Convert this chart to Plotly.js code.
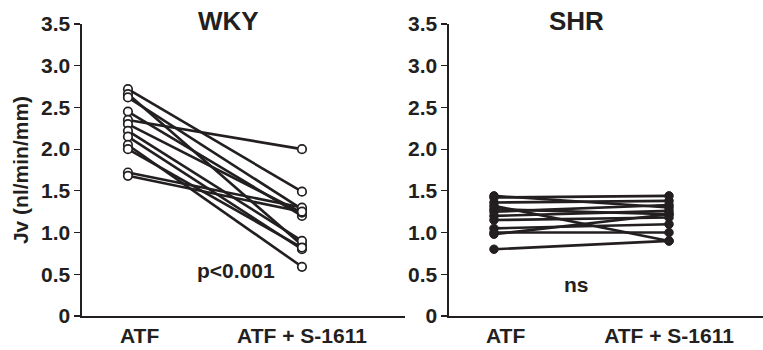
<!DOCTYPE html>
<html><head><meta charset="utf-8">
<script src="https://cdn.plot.ly/plotly-3.0.1.min.js"></script>
<style>html,body{margin:0;padding:0;background:#fff}#c{width:763px;height:350px}</style>
</head><body><div id="c"></div>
<script>
const categories = ["\u00a0\u00a0\u00a0\u00a0ATF", "ATF + S-1611"];
const wkyATF   = [2.72, 2.66, 2.62, 2.45, 2.35, 2.30, 2.22, 2.15, 2.05, 2.00, 1.72, 1.68];
const wkyS1611 = [1.49, 0.85, 1.28, 1.20, 2.00, 1.24, 0.90, 0.80, 0.59, 0.82, 1.30, 1.25];
const shrATF   = [1.44, 1.42, 1.36, 1.32, 1.28, 1.25, 1.20, 1.15, 1.05, 1.00, 0.98, 0.80];
const shrS1611 = [1.30, 1.44, 1.38, 0.90, 1.22, 1.33, 1.26, 1.18, 1.10, 1.00, 1.22, 0.90];
const yTicks = [0, 0.5, 1.0, 1.5, 2.0, 2.5, 3.0, 3.5];
const yTickText = ["0", "0.5", "1.0", "1.5", "2.0", "2.5", "3.0", "3.5"];

const ink = "#231f20";
const traces = [];
wkyATF.forEach((v, i) => traces.push({
  x: [0, 1], y: [v, wkyS1611[i]], xaxis: "x", yaxis: "y", mode: "lines+markers",
  line: {color: ink, width: 2.6},
  marker: {size: 8.5, color: "#fff", line: {color: ink, width: 1.7}},
  showlegend: false, hoverinfo: "skip"
}));
shrATF.forEach((v, i) => traces.push({
  x: [0, 1], y: [v, shrS1611[i]], xaxis: "x2", yaxis: "y2", mode: "lines+markers",
  line: {color: ink, width: 2.6},
  marker: {size: 8.5, color: ink, line: {color: ink, width: 1}},
  showlegend: false, hoverinfo: "skip"
}));

const font = {family: "Liberation Sans, Arial, sans-serif", size: 21, color: ink, weight: "bold"};
const xBase = {tickvals: [0, 1], ticktext: categories, showline: true, linecolor: ink, linewidth: 1.6,
  ticks: "", showgrid: false, zeroline: false, tickfont: font, fixedrange: true};
const yBase = {range: [0, 3.5], tickvals: yTicks, ticktext: yTickText, showline: true, linecolor: ink,
  linewidth: 1.6, ticks: "outside", ticklen: 6, tickwidth: 1.2, tickcolor: ink, showgrid: false,
  zeroline: false, tickfont: font, fixedrange: true};

const layout = {
  width: 763, height: 350,
  margin: {l: 82, r: 0, t: 24, b: 34},
  paper_bgcolor: "#fff", plot_bgcolor: "#fff",
  font: font,
  xaxis: Object.assign({}, xBase, {domain: [0, 0.4743], range: [-0.264, 1.592], anchor: "y"}),
  xaxis2: Object.assign({}, xBase, {domain: [0.5389, 1], range: [-0.257, 1.537], anchor: "y2"}),
  yaxis: Object.assign({}, yBase, {domain: [0, 1], anchor: "x",
    title: {text: "Jv (nl/min/mm)", font: font, standoff: 6}}),
  yaxis2: Object.assign({}, yBase, {domain: [0, 1], anchor: "x2"}),
  annotations: [
    {text: "WKY", xref: "x", yref: "paper", x: 0.58, y: 1.01, showarrow: false,
      font: Object.assign({}, font, {size: 26}), yanchor: "middle"},
    {text: "SHR", xref: "x2", yref: "paper", x: 0.47, y: 1.01, showarrow: false,
      font: Object.assign({}, font, {size: 26}), yanchor: "middle"},
    {text: "p<0.001", xref: "x", yref: "y", x: 0.62, y: 0.55, showarrow: false, font: font},
    {text: "ns", xref: "x2", yref: "y2", x: 0.47, y: 0.38, showarrow: false, font: font}
  ]
};
Plotly.newPlot("c", traces, layout, {staticPlot: true, displayModeBar: false});
</script></body></html>
